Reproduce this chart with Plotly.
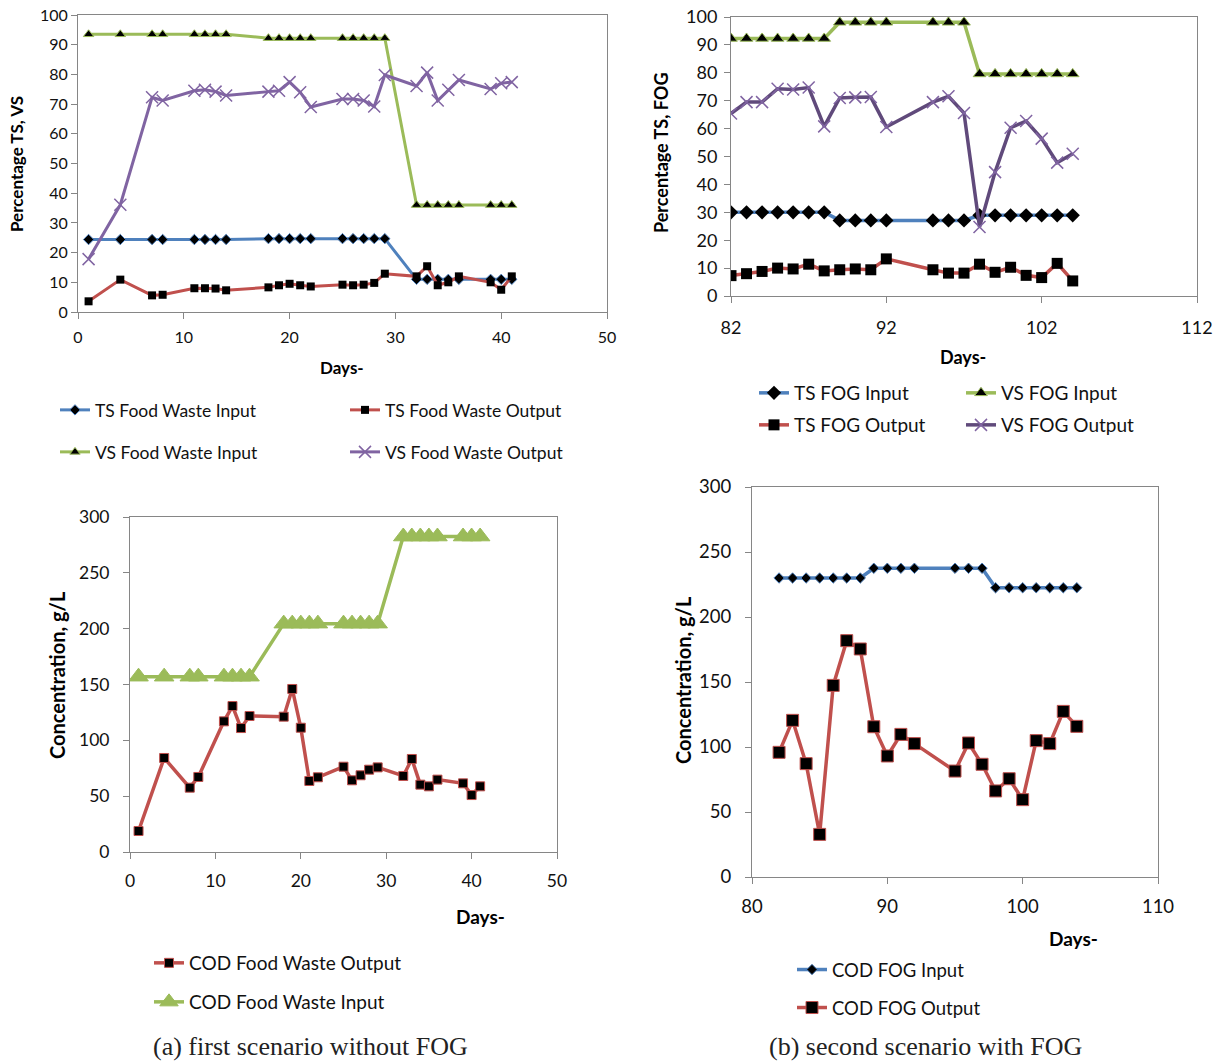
import plotly.graph_objects as go

# ---------------- data ----------------
days_a = [1, 4, 7, 8, 11, 12, 13, 14, 18, 19, 20, 21, 22, 25, 26, 27, 28, 29,
          32, 33, 34, 35, 36, 39, 40, 41]
ts_fw_in = [24.4] * 8 + [24.7] * 10 + [11.0] * 8
vs_fw_in = [93.5] * 8 + [92.2] * 10 + [36.0] * 8
ts_fw_out = [3.6, 10.9, 5.6, 5.8, 8.0, 8.0, 7.9, 7.3, 8.3, 9.0, 9.5, 9.0, 8.6,
             9.2, 9.0, 9.2, 9.8, 12.9, 12.0, 15.4, 9.0, 10.0, 12.0, 10.0, 7.5, 12.0]
vs_fw_out = [17.8, 36.1, 72.3, 71.2, 74.5, 74.8, 74.2, 72.9, 74.2, 74.5, 77.4,
             74.0, 69.0, 71.7, 71.7, 71.2, 69.2, 79.8, 76.1, 80.6, 71.2, 74.8,
             78.1, 75.1, 77.0, 77.4]

days_b = [82, 83, 84, 85, 86, 87, 88, 89, 90, 91, 92, 95, 96, 97, 98, 99, 100,
          101, 102, 103, 104]
ts_fog_in = [30.0] * 7 + [27.1] * 7 + [28.9] * 7
vs_fog_in = [92.3] * 7 + [98.1] * 7 + [79.6] * 7
ts_fog_out = [7.3, 8.0, 8.8, 10.0, 9.7, 11.4, 9.0, 9.4, 9.7, 9.4, 13.3, 9.4,
              8.2, 8.2, 11.4, 8.5, 10.3, 7.4, 6.6, 11.7, 5.4]
vs_fog_out = [65.4, 69.5, 69.5, 74.3, 74.0, 74.7, 60.8, 71.0, 71.2, 71.3, 60.6,
              69.5, 71.6, 65.6, 24.7, 44.4, 60.3, 62.7, 56.4, 47.8, 51.0]

cod_fw_out = [18.8, 84.2, 57.6, 67.2, 117.0, 130.7, 111.0, 121.8, 121.2, 146.0,
              111.3, 63.6, 66.9, 76.4, 64.2, 68.7, 73.7, 75.8, 68.1, 83.3, 60.3,
              58.8, 64.8, 61.5, 51.0, 58.8]
cod_fw_in = [157.0] * 8 + [204.5] * 10 + [282.5] * 8

cod_fog_in = [230.0] * 7 + [237.5] * 7 + [222.5] * 7
cod_fog_out = [95.9, 120.5, 87.2, 32.8, 147.4, 181.8, 175.4, 115.6, 93.1, 109.7,
               102.6, 81.5, 103.1, 86.7, 66.2, 75.6, 59.5, 104.9, 102.6, 127.4,
               115.9]

# ---------------- style ----------------
W, H = 1220, 1063
BLUE = "#4F81BD"
RED = "#C0504D"
GREEN = "#9BBB59"
PURPLE = "#8064A2"
DPURPLE = "#604A7B"
FONT = "Lato"
GRAY = "#868686"


def px(x):
    return x / W


def py(y):
    return 1 - y / H


fig = go.Figure()


def add(xs, ys, name, color, xa, ya, legend, symbol, msize, mcolor, mline_color,
        mline_w=1, lw=3):
    fig.add_trace(go.Scatter(
        x=xs, y=ys, name=name, mode="lines+markers",
        line=dict(color=color, width=lw),
        marker=dict(symbol=symbol, size=msize, color=mcolor,
                    line=dict(color=mline_color, width=mline_w)),
        xaxis=xa, yaxis=ya, legend=legend, showlegend=True,
    ))


# top-left
add(days_a, ts_fw_in, "TS Food Waste Input", BLUE, "x", "y", "legend",
    "diamond", 8, "black", BLUE, 1)
add(days_a, ts_fw_out, "TS Food Waste Output", RED, "x", "y", "legend2",
    "square", 8, "black", "black", 0)
add(days_a, vs_fw_in, "VS Food Waste Input", GREEN, "x", "y", "legend3",
    "triangle-up", 9, "black", GREEN, 1)
add(days_a, vs_fw_out, "VS Food Waste Output", PURPLE, "x", "y", "legend4",
    "x-thin", 12, PURPLE, PURPLE, 1.5)

# top-right
add(days_b, ts_fog_in, "TS FOG Input", BLUE, "x2", "y2", "legend5",
    "diamond", 11, "black", BLUE, 0, 3.5)
add(days_b, vs_fog_in, "VS FOG Input", GREEN, "x2", "y2", "legend6",
    "triangle-up", 11, "black", GREEN, 1, 3.5)
add(days_b, ts_fog_out, "TS FOG Output", RED, "x2", "y2", "legend7",
    "square", 11, "black", RED, 0, 3.5)
add(days_b, vs_fog_out, "VS FOG Output", DPURPLE, "x2", "y2", "legend8",
    "x-thin", 12, PURPLE, PURPLE, 1.5, 3.5)

# bottom-left
add(days_a, cod_fw_out, "COD Food Waste Output", RED, "x3", "y3", "legend9",
    "square", 9, "black", RED, 1, 3.5)
add(days_a, cod_fw_in, "COD Food Waste Input", GREEN, "x3", "y3", "legend10",
    "triangle-up", 17, GREEN, GREEN, 1, 3.5)

# bottom-right
add(days_b, cod_fog_in, "COD FOG Input", BLUE, "x4", "y4", "legend11",
    "diamond", 8, "black", BLUE, 1, 3.5)
add(days_b, cod_fog_out, "COD FOG Output", RED, "x4", "y4", "legend12",
    "square", 12, "black", RED, 1, 3.5)


# ---------------- axes ----------------
def xaxis(domain, rng, dtick, tick0, anchor, fsize, standoff):
    return dict(domain=domain, range=rng, dtick=dtick, tick0=tick0,
                anchor=anchor, showgrid=False, zeroline=False, showline=True,
                linecolor=GRAY, linewidth=1, mirror=True, ticks="outside",
                ticklen=6, tickcolor=GRAY,
                tickfont=dict(family=FONT, size=fsize, color="#111111"),
                ticklabelstandoff=standoff, fixedrange=True, automargin=False)


def yaxis(domain, rng, dtick, anchor, fsize, standoff):
    return dict(domain=domain, range=rng, dtick=dtick, anchor=anchor,
                showgrid=False, zeroline=False, showline=True, linecolor=GRAY,
                linewidth=1, mirror=True, ticks="outside", ticklen=6,
                tickcolor=GRAY,
                tickfont=dict(family=FONT, size=fsize, color="#111111"),
                ticklabelstandoff=standoff, fixedrange=True, automargin=False)


# plot-area pixel boxes: (left, right, top, bottom)
TL = (78, 607, 15, 312)
TR = (731, 1197, 17, 296)
BL = (130, 557, 517, 852)
BR = (752, 1158, 487, 877)


def dom(b):
    return [px(b[0]), px(b[1])], [py(b[3]), py(b[2])]


dx1, dy1 = dom(TL)
dx2, dy2 = dom(TR)
dx3, dy3 = dom(BL)
dx4, dy4 = dom(BR)

layout = dict(
    width=W, height=H,
    margin=dict(l=0, r=0, t=0, b=0, pad=0, autoexpand=False),
    paper_bgcolor="white", plot_bgcolor="white",
    font=dict(family=FONT, size=16, color="black"),
    xaxis=xaxis(dx1, [0, 50], 10, 0, "y", 16, 5),
    yaxis=yaxis(dy1, [0, 100], 10, "x", 16, 0),
    xaxis2=xaxis(dx2, [82, 112], 10, 82, "y2", 18, 9),
    yaxis2=yaxis(dy2, [0, 100], 10, "x2", 18, 3),
    xaxis3=xaxis(dx3, [0, 50], 10, 0, "y3", 17.5, 7),
    yaxis3=yaxis(dy3, [0, 300], 50, "x3", 17.5, 10),
    xaxis4=xaxis(dx4, [80, 110], 10, 80, "y4", 18.5, 7),
    yaxis4=yaxis(dy4, [0, 300], 50, "x4", 18.5, 10),
)

# legends: (text start x px, center y px, font size)
legend_pos = [
    (97, 410, 17.5), (387, 410, 17.5), (97, 452, 17.5), (387, 452, 17.5),
    (796, 393, 19), (1003, 393, 19), (796, 425, 19), (1003, 425, 19),
    (191, 963, 19), (191, 1002, 19),
    (834, 970, 18.5), (834, 1008, 18.5),
]
for i, (tx, ty, fs) in enumerate(legend_pos):
    key = "legend" if i == 0 else f"legend{i + 1}"
    layout[key] = dict(
        x=px(tx - 42), y=py(ty), xanchor="left", yanchor="middle",
        orientation="v", bgcolor="rgba(0,0,0,0)", borderwidth=0,
        font=dict(family=FONT, size=fs, color="#111111"),
        itemwidth=30, itemclick=False, itemdoubleclick=False,
    )

fig.update_layout(**layout)

# axis titles as annotations
ann = [
    ("<b>Percentage TS, VS</b>", 17, 164, -90, 17),
    ("<b>Percentage TS, FOG</b>", 661, 153, -90, 18),
    ("<b>Concentration, g/L</b>", 57, 675, -90, 20),
    ("<b>Concentration, g/L</b>", 683, 680, -90, 20),
    ("<b>Days-</b>", 342, 367, 0, 17),
    ("<b>Days-</b>", 963, 357, 0, 18),
    ("<b>Days-</b>", 480, 916, 0, 19),
    ("<b>Days-</b>", 1073, 938, 0, 19),
]
for text, x, y, ang, fs in ann:
    fig.add_annotation(text=text, x=px(x), y=py(y), textangle=ang,
                       xref="paper", yref="paper", showarrow=False,
                       xanchor="center", yanchor="middle",
                       font=dict(family=FONT, size=fs, color="black"))

cap_font = dict(family="Liberation Serif", size=26, color="#222222")
fig.add_annotation(text="(a) first scenario without FOG", x=px(310), y=py(1046),
                   xref="paper", yref="paper", showarrow=False,
                   xanchor="center", yanchor="middle", font=cap_font)
fig.add_annotation(text="(b) second scenario with FOG", x=px(925), y=py(1046),
                   xref="paper", yref="paper", showarrow=False,
                   xanchor="center", yanchor="middle", font=cap_font)

fig.write_html("out.html", config={"displayModeBar": False},
               post_script="document.body.style.margin='0';")
